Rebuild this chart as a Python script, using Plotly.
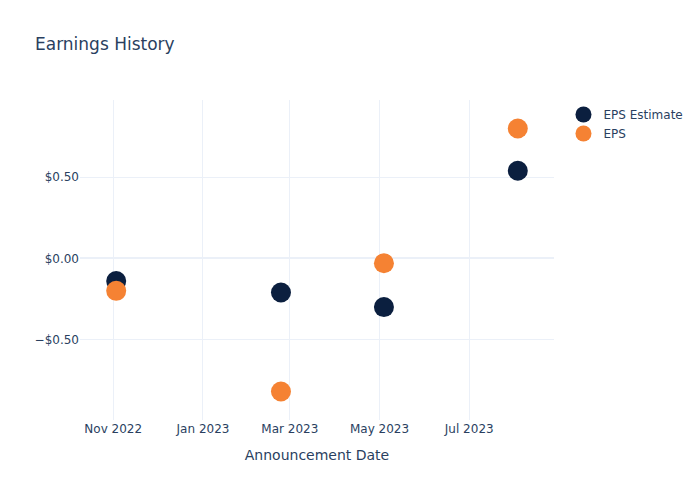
import plotly.graph_objects as go

dates = ["2022-11-03", "2023-02-23", "2023-05-04", "2023-08-03"]
eps_estimate = [-0.14, -0.21, -0.30, 0.54]
eps_actual = [-0.20, -0.82, -0.03, 0.80]

fig = go.Figure()
fig.add_trace(go.Scatter(x=dates, y=eps_estimate, mode="markers", name="EPS Estimate",
                         marker=dict(color="#0b1f3f", size=20)))
fig.add_trace(go.Scatter(x=dates, y=eps_actual, mode="markers", name="EPS",
                         marker=dict(color="#f58233", size=20)))
fig.update_layout(
    template="plotly_white",
    width=700, height=500,
    font=dict(family="DejaVu Sans"),
    title=dict(text="Earnings History"),
    xaxis=dict(title=dict(text="Announcement Date")),
    yaxis=dict(tickformat="$.2f"),
)
fig.write_html("out.html")
